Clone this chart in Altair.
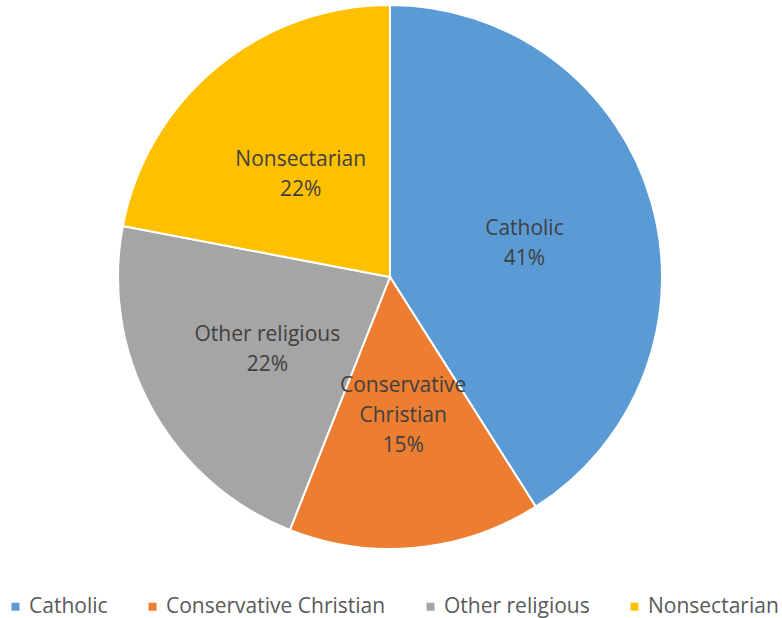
import altair as alt
import pandas as pd

categories = ["Catholic", "Conservative Christian", "Other religious", "Nonsectarian"]
values = [41, 15, 22, 22]
labels = ["Catholic\n41%", "Conservative\nChristian\n15%", "Other religious\n22%", "Nonsectarian\n22%"]
colors = ["#5B9BD5", "#ED7D31", "#A5A5A5", "#FFC000"]

df = pd.DataFrame({"category": categories, "value": values, "label": labels, "order": list(range(len(categories)))})
df["nlines"] = df["label"].str.count("\n") + 1

FONT = "Open Sans"
FS = 21
LH = 30
CX, CY, R = 390, 277, 272

base = alt.Chart(df).encode(
    theta=alt.Theta("value:Q", stack=True),
    order=alt.Order("order:Q"),
    x=alt.value(CX),
    y=alt.value(CY),
)

pie = base.mark_arc(outerRadius=R, stroke="white", strokeWidth=2).encode(
    color=alt.Color(
        "category:N",
        scale=alt.Scale(domain=categories, range=colors),
        sort=categories,
        legend=alt.Legend(
            title=None,
            orient="none",
            legendX=5,
            legendY=596,
            direction="horizontal",
            symbolType="square",
            symbolSize=64,
            symbolStrokeWidth=0,
            labelFont=FONT,
            labelFontSize=FS,
            labelColor="#595959",
            labelOffset=3,
            labelLimit=0,
            columnPadding=34,
        ),
    )
)

text_layers = []
for n, shift in ((2, -9), (3, -30)):
    t = base.transform_calculate(
        lab=f"datum.nlines == {n} ? datum.label : ''"
    ).mark_text(
        radius=140, font=FONT, fontSize=FS, color="#404040", lineBreak="\n",
        lineHeight=LH, dy=shift,
    ).encode(text="lab:N")
    text_layers.append(t)

chart = (
    alt.layer(pie, *text_layers)
    .properties(width=782, height=618, autosize=alt.AutoSizeParams(type="none"), padding=0)
    .configure_view(stroke=None)
)

chart.save("out.html", embed_options={"renderer": "svg", "actions": False})
